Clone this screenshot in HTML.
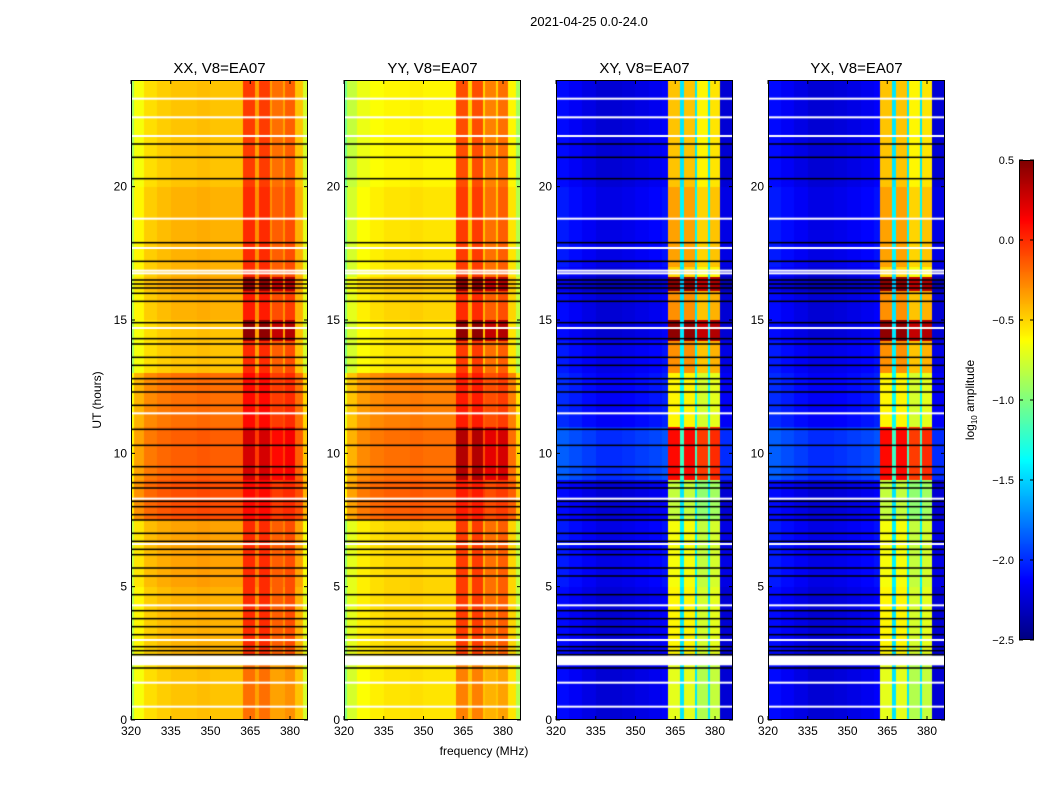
<!DOCTYPE html>
<html><head><meta charset="utf-8">
<style>
body{margin:0;background:#fff;width:1050px;height:800px;overflow:hidden;position:relative;font-family:"Liberation Sans",sans-serif}
canvas{position:absolute}
svg{position:absolute;left:0;top:0}
</style></head>
<body>
<div id="plots"></div>
<svg id="ov" width="1050" height="800"></svg>
<script>
// ---- data ----
const panelTitles = ["XX, V8=EA07","YY, V8=EA07","XY, V8=EA07","YX, V8=EA07"];
const segEdges = [0,2,2.4,5,7.5,9,11,13,14.2,15,16.1,16.6,17,20,24];
const baseXX = [-0.45,-0.45,-0.4,-0.35,-0.1,-0.15,-0.2,-0.45,-0.45,-0.4,-0.35,-0.4,-0.4,-0.45];
const bandXX = [-0.2,-0.2,0.0,0.0,0.1,0.25,0.1,0.0,0.45,0.05,0.45,0.0,0.0,-0.05];
const baseYY = [-0.55,-0.55,-0.5,-0.5,-0.15,-0.2,-0.25,-0.55,-0.55,-0.5,-0.45,-0.55,-0.55,-0.6];
const bandYY = [-0.25,-0.25,-0.05,-0.05,0.05,0.35,0.05,-0.05,0.45,0.0,0.45,-0.05,-0.05,-0.1];
const baseXY = [-2.25,-2.25,-2.25,-2.2,-2.25,-2.0,-2.15,-2.2,-2.25,-2.25,-2.35,-2.25,-2.2,-2.25];
const bandXY = [-0.7,-0.7,-0.6,-0.65,-0.8,0.1,-0.6,-0.3,0.45,-0.3,0.45,-0.5,-0.35,-0.45];
const baseYX = [-2.25,-2.25,-2.25,-2.2,-2.25,-2.0,-2.15,-2.2,-2.25,-2.25,-2.35,-2.25,-2.2,-2.25];
const bandYX = [-0.7,-0.7,-0.6,-0.65,-0.8,0.1,-0.6,-0.3,0.45,-0.3,0.45,-0.5,-0.35,-0.45];
// offsets per 5 MHz bin starting at 320 MHz
const colOffsetPar = [-0.2,-0.08,-0.03,0,0,0.02,0,0,0,0,0,0,0,-0.3];
const colOffsetCross = [0.15,0.1,0.05,0,0,0.02,0.05,0.08,0.12,0.15,0.15,0.15,0,0];
const bandLo = [362.3,368.3,373.2,378.1];
const bandHi = [366.8,372.5,377.4,381.9];
const bandAdj = [0,0,-0.15,-0.1];
const whiteBands = [[2.05,2.42]];
const whiteHours = [0.5,1.4,3.0,4.3,6.6,8.3,11.5,14.7,16.75,16.85,17.7,18.8,21.9,22.6,23.3];
const blackHours = [1.95,2.45,2.6,2.75,3.2,3.5,3.8,4.1,4.7,5.4,5.7,6.2,6.4,6.7,7.0,7.5,7.7,8.0,8.2,8.7,8.9,9.2,9.5,10.3,10.9,11.8,12.3,12.6,12.8,13.3,13.6,14.1,14.3,14.9,15.7,16.0,16.2,16.35,16.5,17.2,17.9,20.3,21.1,21.6];
const xTicks = [320,335,350,365,380];
const yTicks = [0,5,10,15,20];
const cbTicks = [0.5,0.0,-0.5,-1.0,-1.5,-2.0,-2.5];

const panels = [
 {base:baseXX,band:bandXX,col:colOffsetPar,cross:false},
 {base:baseYY,band:bandYY,col:colOffsetPar,cross:false},
 {base:baseXY,band:bandXY,col:colOffsetCross,cross:true},
 {base:baseYX,band:bandYX,col:colOffsetCross,cross:true}];
const lefts=[131,344,556,768], TOP=80, W=177, H=640;
const fx=(f,i)=>lefts[i]+(f-320)*2.65;
const hy=h=>TOP+H-h*H/24;
const vmin=-2.5,vmax=0.5;
function jet(v){let t=(v-vmin)/(vmax-vmin);t=Math.max(0,Math.min(1,t));
 const c=x=>Math.round(255*Math.max(0,Math.min(1,x)));
 return [c(1.5-Math.abs(4*t-3)),c(1.5-Math.abs(4*t-2)),c(1.5-Math.abs(4*t-1))];}
function segIdx(h){for(let k=0;k<segEdges.length-1;k++) if(h<segEdges[k+1]) return k; return segEdges.length-2;}

const host=document.getElementById('plots');
panels.forEach((p,i)=>{
 const cv=document.createElement('canvas');
 
 
 cv.width=W;cv.height=H;cv.style.left=lefts[i]+'px';cv.style.top=TOP+'px';
 host.appendChild(cv);
 const ctx=cv.getContext('2d');const img=ctx.createImageData(W,H);
 for(let y=0;y<H;y++){const h=(H-y-0.5)*24/H;const k=segIdx(h);
  for(let x=0;x<W;x++){const f=320+(x+0.5)/2.65;
   let v=p.base[k]+p.col[Math.min(13,Math.floor((f-320)/5))];
   if(!p.cross&&f<321.2) v-=0.25;
   let inBand=-1;for(let b=0;b<4;b++) if(f>=bandLo[b]&&f<bandHi[b]) inBand=b;
   if(inBand>=0) v=p.band[k]+bandAdj[inBand];
   else if(f>=bandLo[0]&&f<bandHi[3]) v=p.cross?p.base[k]+0.8:p.base[k]+0.1;
   const c=jet(v);const o=(y*W+x)*4;img.data[o]=c[0];img.data[o+1]=c[1];img.data[o+2]=c[2];img.data[o+3]=255;}}
 ctx.putImageData(img,0,0);
 ctx.fillStyle='#fff';whiteHours.forEach(h=>ctx.fillRect(0,hy(h)-TOP-1,W,2));
 whiteBands.forEach(b=>ctx.fillRect(0,hy(b[1])-TOP,W,hy(b[0])-hy(b[1])));
 ctx.fillStyle='#000';blackHours.forEach(h=>ctx.fillRect(0,hy(h)-TOP-0.75,W,1.5));
});

// ---- axes ----
const ns='http://www.w3.org/2000/svg',svg=document.getElementById('ov');
function el(tag,attrs,txt){const e=document.createElementNS(ns,tag);for(const k in attrs)e.setAttribute(k,attrs[k]);if(txt!==undefined)e.textContent=txt;svg.appendChild(e);return e;}
panels.forEach((p,i)=>{
 const fr=el('rect',{x:lefts[i]+0.5,y:TOP+0.5,width:W-1,height:H-1,fill:'none',stroke:'#000','stroke-width':1});
 
 const t=el('text',{x:lefts[i]+W/2,y:73,'text-anchor':'middle','font-size':15},panelTitles[i]);
 
 xTicks.forEach(f=>{const x=fx(f,i);
  el('line',{x1:x,x2:x,y1:TOP+H,y2:TOP+H-4,stroke:'#000'});el('line',{x1:x,x2:x,y1:TOP,y2:TOP+4,stroke:'#000'});
  const l=el('text',{x:x,y:TOP+H+15,'text-anchor':'middle','font-size':12},String(f));
  });
 yTicks.forEach(h=>{const y=hy(h);
  el('line',{x1:lefts[i],x2:lefts[i]+4,y1:y,y2:y,stroke:'#000'});el('line',{x1:lefts[i]+W,x2:lefts[i]+W-4,y1:y,y2:y,stroke:'#000'});
  const l=el('text',{x:lefts[i]-4,y:y+4,'text-anchor':'end','font-size':12},String(h));
  });
});
let s=el('text',{x:589,y:26,'text-anchor':'middle','font-size':13},'2021-04-25 0.0-24.0');

s=el('text',{x:484,y:755,'text-anchor':'middle','font-size':12},'frequency (MHz)');

s=el('text',{x:101,y:400,'text-anchor':'middle','font-size':12,transform:'rotate(-90 101 400)'},'UT (hours)');


// colorbar
const CBX=1019,CBW=15,CBT=160,CBH=480;
const cb=document.createElement('canvas');cb.width=CBW;cb.height=CBH;cb.style.left=CBX+'px';cb.style.top=CBT+'px';


host.appendChild(cb);const cc=cb.getContext('2d');
for(let y=0;y<CBH;y++){const c=jet(vmax-(y+0.5)/CBH*(vmax-vmin));cc.fillStyle=`rgb(${c})`;cc.fillRect(0,y,CBW,1);}
el('rect',{x:CBX+0.5,y:CBT+0.5,width:CBW-1,height:CBH-1,fill:'none',stroke:'#000'});
cbTicks.forEach(v=>{const y=CBT+(vmax-v)/(vmax-vmin)*CBH;
 el('line',{x1:CBX,x2:CBX+4,y1:y,y2:y,stroke:'#000'});el('line',{x1:CBX+CBW,x2:CBX+CBW-4,y1:y,y2:y,stroke:'#000'});
 const l=el('text',{x:1014,y:y+4,'text-anchor':'end','font-size':11},(v<0?'\u2212':'')+Math.abs(v).toFixed(1));
 });
s=el('text',{x:974,y:400,'text-anchor':'middle','font-size':12,transform:'rotate(-90 974 400)'});

s.innerHTML='log<tspan font-size="8" dy="3">10</tspan><tspan dy="-3"> amplitude</tspan>';
</script>
</body></html>
